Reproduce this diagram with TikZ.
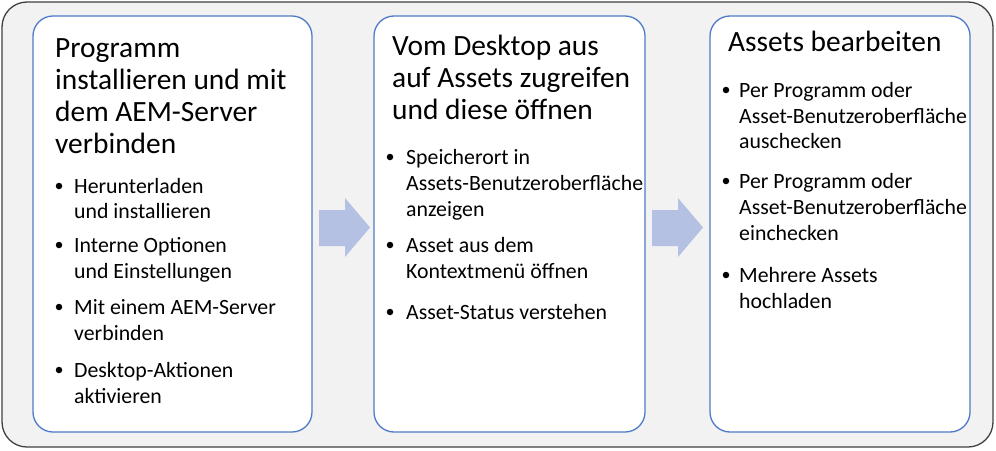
\documentclass[tikz,border=0pt]{standalone}
\usepackage{fontspec}
\setmainfont{Carlito}
\usepackage{xcolor}
\definecolor{framegray}{HTML}{F2F2F2}
\definecolor{frameline}{HTML}{404040}
\definecolor{boxblue}{HTML}{4F7BC8}
\definecolor{arrowblue}{HTML}{B4C1E2}

\tikzset{
  stagebox/.style={draw=boxblue, line width=1.3pt, fill=white, rounded corners=20pt},
  headline/.style={anchor=base west, inner sep=0pt, font=\fontsize{29.4}{32}\selectfont},
  itemline/.style={anchor=base west, inner sep=0pt, font=\fontsize{21.8}{26}\selectfont},
  dotmark/.style={circle, fill=black, inner sep=0pt, minimum size=6.5pt, yshift=7pt},
}
\newcommand{\blockarrow}[1]{%
  \fill[arrowblue] (#1,210) -- (#1+26,210) -- (#1+26,198) -- (#1+51,227.5)
    -- (#1+26,257) -- (#1+26,246) -- (#1,246) -- cycle;}

\begin{document}
\begin{tikzpicture}[x=1pt, y=-1pt]
	\useasboundingbox (0,0) rectangle (996,450);
	\draw[frameline, fill=framegray, line width=1.3pt, rounded corners=25pt] (2,2) rectangle (993,447);
	% stage boxes
	\draw[stagebox] (33,16) rectangle (312,432);
	\draw[stagebox] (374,16) rectangle (645,432);
	\draw[stagebox] (710,16) rectangle (970,432);
	\blockarrow{319}
	\blockarrow{652}
	% first stage
	\node[headline] (t1a) at (55,57) {Programm};
	\node[headline] (t1b) at (55,89) {installieren und mit};
	\node[headline] (t1c) at (55,121) {dem AEM-Server};
	\node[headline] (t1d) at (55,153) {verbinden};
	\node[dotmark] (d1a) at (59,193) {};
	\node[itemline] (i1a) at (74,193) {Herunterladen};
	\node[itemline] (i1b) at (74,218) {und installieren};
	\node[dotmark] (d1b) at (59,252) {};
	\node[itemline] (i1c) at (74,252) {Interne Optionen};
	\node[itemline] (i1d) at (74,278) {und Einstellungen};
	\node[dotmark] (d1c) at (59,314) {};
	\node[itemline] (i1e) at (74,314) {Mit einem AEM-Server};
	\node[itemline] (i1f) at (74,340) {verbinden};
	\node[dotmark] (d1d) at (59,377) {};
	\node[itemline] (i1g) at (74,377) {Desktop-Aktionen};
	\node[itemline] (i1h) at (74,403) {aktivieren};
	% second stage
	\node[headline] (t2a) at (392,55) {Vom Desktop aus};
	\node[headline] (t2b) at (392,87) {auf Assets zugreifen};
	\node[headline] (t2c) at (392,119) {und diese öffnen};
	\node[dotmark] (d2a) at (390,164) {};
	\node[itemline] (i2a) at (406,164) {Speicherort in};
	\node[itemline] (i2b) at (406,190) {Assets-Benutzeroberfläche};
	\node[itemline] (i2c) at (406,216) {anzeigen};
	\node[dotmark] (d2b) at (390,252) {};
	\node[itemline] (i2d) at (406,252) {Asset aus dem};
	\node[itemline] (i2e) at (406,278) {Kontextmenü öffnen};
	\node[dotmark] (d2c) at (390,319) {};
	\node[itemline] (i2f) at (406,319) {Asset-Status verstehen};
	% third stage
	\node[headline] (t3a) at (728,51) {Assets bearbeiten};
	\node[dotmark] (d3a) at (726,97) {};
	\node[itemline] (i3a) at (739,97) {Per Programm oder};
	\node[itemline] (i3b) at (739,123) {Asset-Benutzeroberfläche};
	\node[itemline] (i3c) at (739,148) {auschecken};
	\node[dotmark] (d3b) at (726,188) {};
	\node[itemline] (i3d) at (739,188) {Per Programm oder};
	\node[itemline] (i3e) at (739,214) {Asset-Benutzeroberfläche};
	\node[itemline] (i3f) at (739,240) {einchecken};
	\node[dotmark] (d3c) at (726,282) {};
	\node[itemline] (i3g) at (739,282) {Mehrere Assets};
	\node[itemline] (i3h) at (739,308) {hochladen};
\end{tikzpicture}
\end{document}
